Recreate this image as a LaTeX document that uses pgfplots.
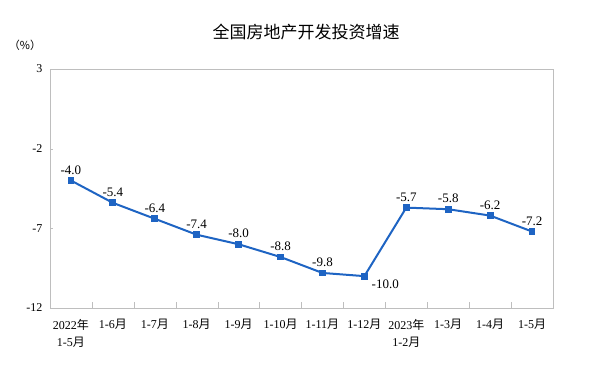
\documentclass[border=0pt]{standalone}
\usepackage{pgfplots}
\pgfplotsset{compat=1.18}
\usepackage{fontspec}
\setmainfont{Liberation Serif}
\newfontfamily\cjk{Noto Sans CJK SC}
\definecolor{lineblue}{RGB}{30,100,195}
\definecolor{axgray}{RGB}{190,190,190}
\begin{document}
\begin{tikzpicture}[x=1pt,y=1pt]
\path[use as bounding box] (-50,-67) rectangle (550,308);
\begin{axis}[
  at={(0,0)}, anchor=south west,
  scale only axis, width=503pt, height=239pt,
  xmin=-0.5, xmax=11.5, ymin=-12, ymax=3,
  ytick={-12,-7,-2,3},
  xtick={0,...,11},
  xticklabels={{2022{\cjk 年}\\1-5{\cjk 月}},{1-6{\cjk 月}},{1-7{\cjk 月}},{1-8{\cjk 月}},{1-9{\cjk 月}},{1-10{\cjk 月}},{1-11{\cjk 月}},{1-12{\cjk 月}},{2023{\cjk 年}\\1-2{\cjk 月}},{1-3{\cjk 月}},{1-4{\cjk 月}},{1-5{\cjk 月}}},
  xticklabel style={align=center, font=\fontsize{12}{17}\selectfont, anchor=north, yshift=-8pt},
  yticklabel style={font=\fontsize{12}{14}\selectfont, xshift=-4pt},
  /pgf/number format/assume math mode=true,
  major x tick style={draw=none},
  minor xtick={0.5,1.5,...,10.5},
  minor tick length=6pt,
  major tick length=3pt,
  tick style={axgray},
  tick align=inside,
  xtick pos=bottom, ytick pos=left,
  axis line style={axgray},
  every axis plot/.append style={line width=2pt},
  clip=false,
]
\addplot[color=lineblue, mark=square*, mark size=2.4pt, mark options={solid},
  nodes near coords, point meta=explicit symbolic,
  nodes near coords style={font=\fontsize{13}{15}\selectfont, text=black, anchor=south, yshift=2pt}]
  table[meta=lab] {
x y lab
0 -4.0 -4.0
1 -5.4 -5.4
2 -6.4 -6.4
3 -7.4 -7.4
4 -8.0 -8.0
5 -8.8 -8.8
6 -9.8 -9.8
7 -10.0 {}
8 -5.7 -5.7
9 -5.8 -5.8
10 -6.2 -6.2
11 -7.2 -7.2
};
\addplot[draw=none, mark=none, nodes near coords, point meta=explicit symbolic,
  nodes near coords style={font=\fontsize{13}{15}\selectfont, text=black, anchor=north west, xshift=3pt, yshift=1pt}]
  table[meta=lab] {
x y lab
7 -10.0 -10.0
};
\end{axis}
\node[font=\cjk\fontsize{17}{20}\selectfont] at (256,276) {全国房地产开发投资增速};
\node[font=\cjk\fontsize{11}{13}\selectfont] at (-25,263) {（\%）};
\end{tikzpicture}
\end{document}
